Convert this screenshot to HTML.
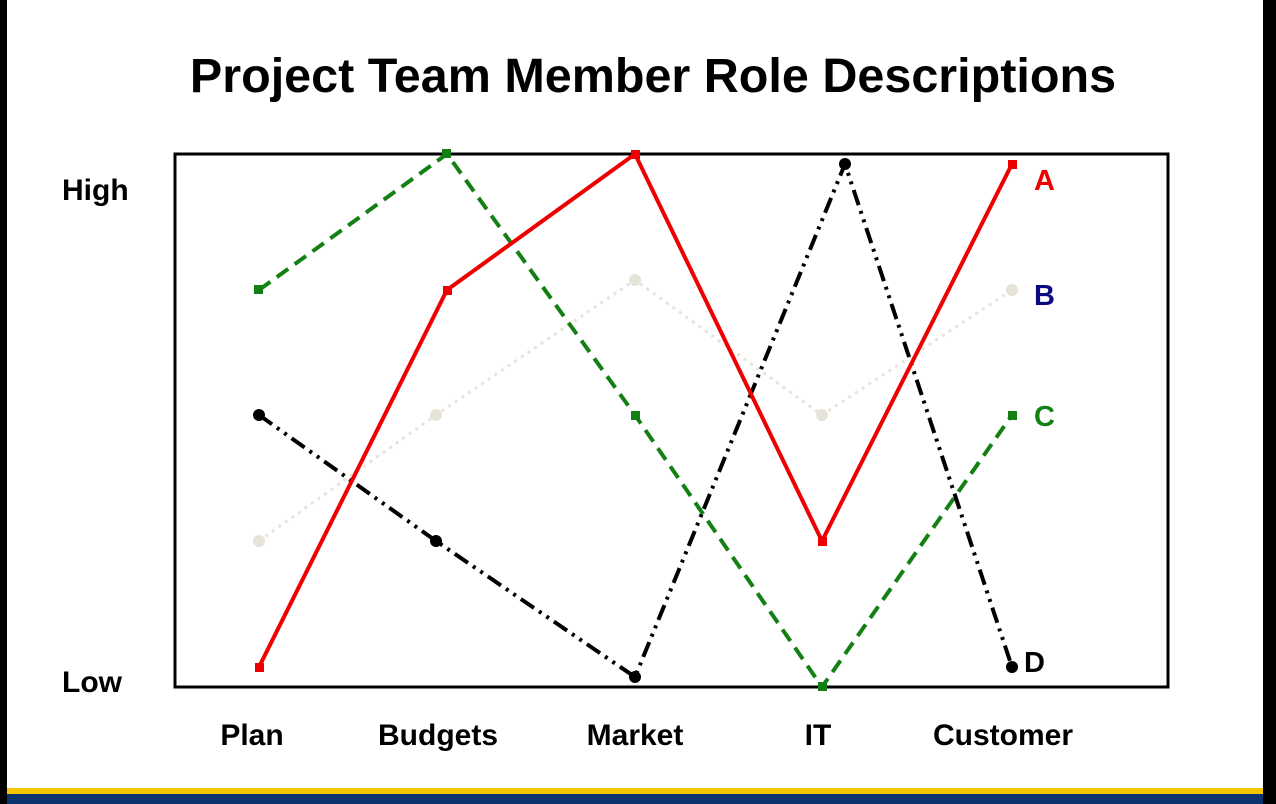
<!DOCTYPE html>
<html><head><style>
html,body{margin:0;padding:0;width:1276px;height:804px;overflow:hidden;background:#fff;}
</style></head><body>
<svg width="1276" height="804" viewBox="0 0 1276 804" xmlns="http://www.w3.org/2000/svg" font-family="Liberation Sans, Arial, sans-serif" font-weight="bold">
<rect x="0" y="0" width="1276" height="804" fill="#fff"/>
<rect x="0" y="0" width="7" height="804" fill="#000"/>
<rect x="1263" y="0" width="13" height="804" fill="#000"/>
<rect x="7" y="788" width="1256" height="6" fill="#f5c400"/>
<rect x="7" y="794" width="1256" height="10" fill="#0b3370"/>
<text x="653" y="92" text-anchor="middle" font-size="48.5">Project Team Member Role Descriptions</text>
<rect x="175" y="154" width="993" height="533" fill="none" stroke="#000" stroke-width="3"/>
<text x="62" y="200" font-size="30">High</text>
<text x="62" y="692" font-size="30">Low</text>
<g font-size="30" text-anchor="middle">
<text x="252" y="745">Plan</text>
<text x="438" y="745">Budgets</text>
<text x="635" y="745">Market</text>
<text x="818" y="745">IT</text>
<text x="1003" y="745">Customer</text>
</g>
<!-- B -->
<polyline points="259,541 436,415 635,280 822,415 1012,290" fill="none" stroke="#e6e3d8" stroke-width="3" stroke-dasharray="3,5"/>
<g fill="#e6e3d8"><circle cx="259" cy="541" r="6"/><circle cx="436" cy="415" r="6"/><circle cx="635" cy="280" r="6"/><circle cx="822" cy="415" r="6"/><circle cx="1012" cy="290" r="6"/></g>
<!-- C -->
<polyline points="259,290 447,154 635,415 822,687 1012,415" fill="none" stroke="#138013" stroke-width="4" stroke-dasharray="14,8"/>
<g fill="#138013"><rect x="254" y="285" width="9" height="9"/><rect x="442" y="149" width="9" height="9"/><rect x="631" y="411" width="9" height="9"/><rect x="818" y="682" width="9" height="9"/><rect x="1008" y="411" width="9" height="9"/></g>
<!-- D -->
<polyline points="259,415 436,541 635,677 845,164 1012,667" fill="none" stroke="#000" stroke-width="4" stroke-dasharray="16,6,3,6,3,6"/>
<g fill="#000"><circle cx="259" cy="415" r="6"/><circle cx="436" cy="541" r="6"/><circle cx="635" cy="677" r="6"/><circle cx="845" cy="164" r="6"/><circle cx="1012" cy="667" r="6"/></g>
<!-- A -->
<polyline points="259,667 447,290 635,154 822,541 1012,164" fill="none" stroke="#ee0000" stroke-width="4"/>
<g fill="#ee0000"><rect x="255" y="663" width="9" height="9"/><rect x="443" y="286" width="9" height="9"/><rect x="631" y="150" width="9" height="9"/><rect x="818" y="537" width="9" height="9"/><rect x="1008" y="160" width="9" height="9"/></g>
<g font-size="29">
<text x="1034" y="190" fill="#ee0000">A</text>
<text x="1034" y="305" fill="#0a0a80">B</text>
<text x="1034" y="426" fill="#138013">C</text>
<text x="1024" y="672" fill="#000">D</text>
</g>
</svg>
</body></html>
